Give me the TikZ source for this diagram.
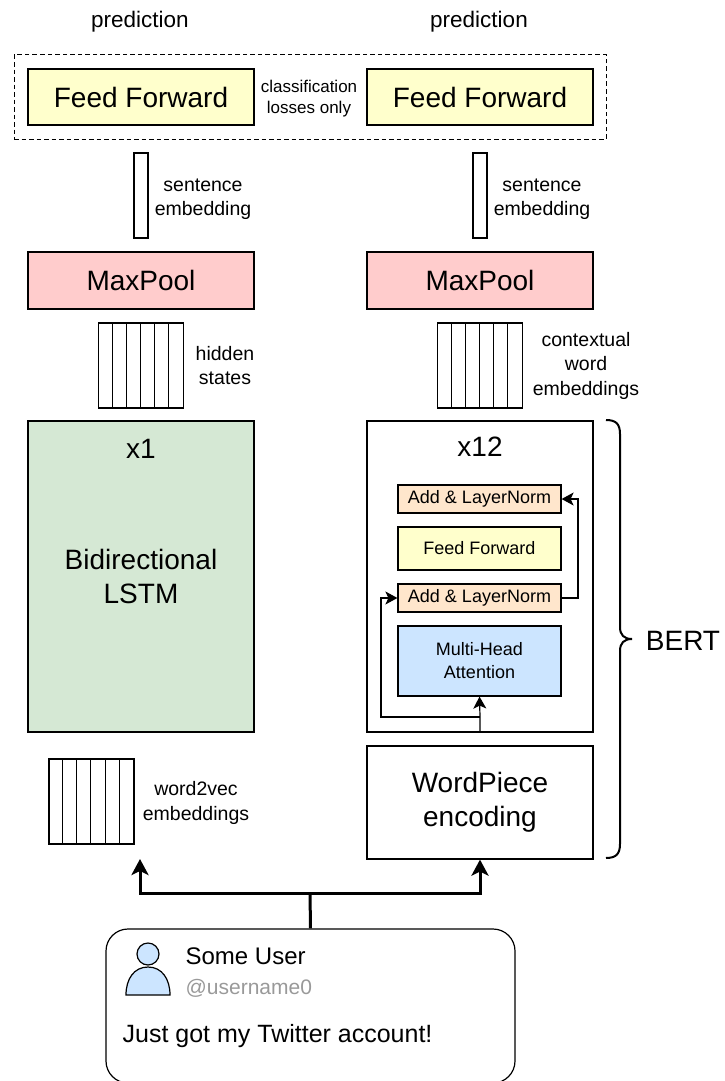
\documentclass[tikz,border=0pt]{standalone}
\usepackage{fontspec}
\setmainfont{Liberation Sans}
\usetikzlibrary{arrows.meta}
\definecolor{ffyellow}{HTML}{FFFFCC}
\definecolor{poolred}{HTML}{FFCCCC}
\definecolor{lstmgreen}{HTML}{D5E8D4}
\definecolor{normorange}{HTML}{FFE6CC}
\definecolor{attblue}{HTML}{CCE5FF}
\definecolor{handlegray}{HTML}{999999}
\begin{document}
\begin{tikzpicture}[x=1pt, y=-1pt, line width=1.2pt, align=center,
	main node/.style={draw, inner sep=0pt, minimum width=226pt, font=\fontsize{28}{34}\selectfont},
	inner node/.style={draw, inner sep=0pt, minimum width=163pt, font=\fontsize{18}{23}\selectfont},
	embed node/.style={draw, inner sep=0pt, minimum width=85pt, minimum height=85pt},
	bar node/.style={draw, inner sep=0pt, minimum width=14pt, minimum height=85pt},
	head node/.style={inner sep=0pt, font=\fontsize{22.5}{27}\selectfont},
	big label/.style={inner sep=0pt, font=\fontsize{28}{34}\selectfont},
	side label/.style={inner sep=0pt, font=\fontsize{19.5}{24.5}\selectfont},
	thin arrow/.style={-{Stealth[length=12pt, width=13pt, inset=3pt]}, line width=1.2pt},
	thick arrow/.style={-{Stealth[length=16pt, width=17pt, inset=4pt]}, line width=3pt}]
	\useasboundingbox (0,0) rectangle (724,1081);
	% prediction heads
	\node[draw, dashed, dash pattern=on 4.5pt off 3pt, line width=1pt, inner sep=0pt, minimum width=592pt, minimum height=84pt] (heads) at (310,97) {};
	\node[main node, fill=ffyellow, minimum height=56pt] (ffl) at (141,97) {Feed Forward};
	\node[main node, fill=ffyellow, minimum height=56pt, node distance=339pt] (ffr) [right of=ffl] {Feed Forward};
	\node[inner sep=0pt, font=\fontsize{17}{21}\selectfont] (losses) at (309,99) {classification\\losses only};
	\node[head node] (predl) at (140,22) {prediction};
	\node[head node] (predr) at (479,22) {prediction};
	% left column
	\node[bar node, node distance=98.5pt] (sentl) [below of=ffl] {};
	\node[side label] (sentlabl) at (203,199) {sentence\\embedding};
	\node[main node, fill=poolred, minimum height=57pt, node distance=85pt] (pooll) [below of=sentl] {MaxPool};
	\node[embed node, node distance=85pt] (hidden) [below of=pooll] {};
	\node[side label, node distance=84pt] (hiddenlab) [right of=hidden] {hidden\\states};
	\node[main node, fill=lstmgreen, minimum height=311pt, node distance=211pt] (lstm) [below of=hidden] {Bidirectional\\LSTM};
	\node[big label, node distance=128pt] (xone) [above of=lstm] {x1};
	\node[embed node] (wordvec) at (91.5,801.5) {};
	\node[side label] (wordveclab) at (196,803) {word2vec\\embeddings};
	% right column
	\node[bar node, node distance=98.5pt] (sentr) [below of=ffr] {};
	\node[side label] (sentlabr) at (542,199) {sentence\\embedding};
	\node[main node, fill=poolred, minimum height=57pt, node distance=85pt] (poolr) [below of=sentr] {MaxPool};
	\node[embed node, node distance=85pt] (context) [below of=poolr] {};
	\node[side label, node distance=106pt] (contextlab) [right of=context] {contextual\\word\\embeddings};
	\node[main node, minimum height=311pt, node distance=211pt] (bert) [below of=context] {};
	\node[big label, node distance=129.5pt] (xtwelve) [above of=bert] {x12};
	\node[main node, minimum height=113pt, node distance=226pt] (wordpiece) [below of=bert] {WordPiece\\encoding};
	\node[big label] (bertlab) at (683,641) {BERT};
	% transformer layer
	\node[inner node, fill=normorange, minimum height=28pt] (addt) at (479.5,499) {Add \& LayerNorm};
	\node[inner node, fill=ffyellow, minimum height=43pt, node distance=49.5pt] (ffs) [below of=addt] {Feed Forward};
	\node[inner node, fill=normorange, minimum height=28pt, node distance=49.5pt] (addb) [below of=ffs] {Add \& LayerNorm};
	\node[inner node, fill=attblue, minimum height=70pt, node distance=63pt] (mha) [below of=addb] {Multi-Head\\Attention};
	\coordinate (entry) at (480,732);
	\coordinate (branch) at (480,717);
	\coordinate (loopl) at (381,598);
	\coordinate (loopr) at (578,598);
	\draw[thin arrow] (entry) -- (branch) -- (mha.south);
	\draw[thin arrow] (branch) -| (loopl) -- (addb.west);
	\draw[thin arrow] (addb.east) -- (loopr) |- (addt.east);
	% grid columns
	\foreach \grid in {hidden,context,wordvec}
		\foreach \col in {1,...,5}
			\draw[line width=1pt] ([xshift=\col*14.17pt]\grid.north west) -- ([xshift=\col*14.17pt]\grid.south west);
	% brace
	\draw[line width=2pt] (606,420) .. controls (616,420) and (620,424) .. (620,434) -- (620,627) .. controls (620,635) and (624,639) .. (632,639) .. controls (624,639) and (620,643) .. (620,651) -- (620,844) .. controls (620,854) and (616,858) .. (606,858);
	% tweet
	\node[draw, rounded corners=22pt, inner sep=0pt, minimum width=409pt, minimum height=154pt] (tweet) at (310.5,1006) {};
	\node[draw, circle, fill=attblue, inner sep=0pt, minimum size=22pt] (head) at (148,954) {};
	\draw[fill=attblue] (126,995) .. controls (126,979) and (134,967) .. (148,967) .. controls (162,967) and (170,979) .. (170,995) -- cycle;
	\node[inner sep=0pt, anchor=west, font=\fontsize{24}{28}\selectfont] (username) at (185,956) {Some User};
	\node[inner sep=0pt, anchor=west, text=handlegray, font=\fontsize{21}{25}\selectfont] (handle) at (185,988) {@username0};
	\node[inner sep=0pt, anchor=west, font=\fontsize{25}{30}\selectfont] (message) at (122,1036) {Just got my Twitter account!};
	% input arrows
	\coordinate (fork) at (310,893);
	\coordinate (tipl) at (140,859);
	\draw[line width=3pt] (tweet.north) -- (fork);
	\draw[thick arrow] (fork) -| (tipl);
	\draw[thick arrow] (fork) -| (wordpiece.south);
\end{tikzpicture}
\end{document}
